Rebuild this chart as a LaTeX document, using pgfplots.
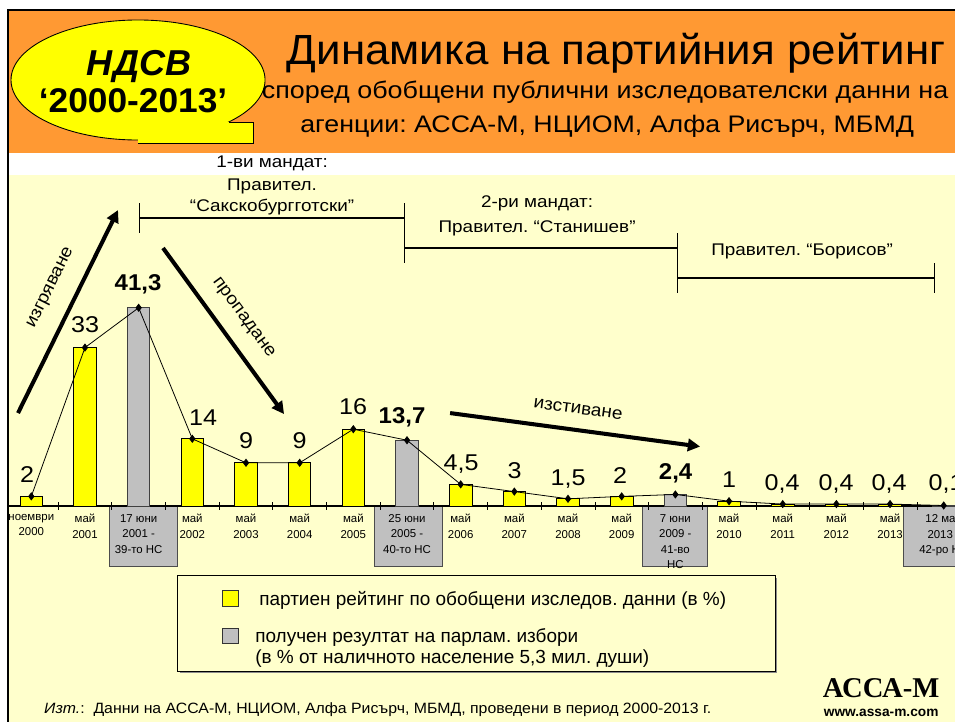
\documentclass[border=0pt]{standalone}
\usepackage{pgfplots}
\pgfplotsset{compat=1.18}
\usetikzlibrary{arrows.meta}
\usepackage{fontspec}
\setmainfont{Liberation Sans}
\newfontfamily\timesfont{Liberation Serif}
\frenchspacing

\definecolor{bandorange}{RGB}{255,153,51}
\definecolor{paleyellow}{RGB}{255,255,204}
\definecolor{baryellow}{RGB}{255,255,0}
\definecolor{bargray}{RGB}{192,192,192}

\newcommand\fs[2]{\fontsize{#1}{#2}\selectfont}
% текстът в оригинала е леко разтеглен хоризонтално
\newcommand\hx[2]{\scalebox{#1}[1]{#2}}

% рейтинг по обобщени данни (в %)
\pgfplotstableread{
x y
0 2
1 33
3 14
4 9
5 9
6 16
8 4.5
9 3
10 1.5
11 2
13 1
14 0.4
15 0.4
16 0.4
}\polls

% резултат на парламентарни избори
\pgfplotstableread{
x y
2 41.3
7 13.7
12 2.4
17 0.1
}\elections

% обща линия
\pgfplotstableread{
x y
0 2
1 33
2 41.3
3 14
4 9
5 9
6 16
7 13.7
8 4.5
9 3
10 1.5
11 2
12 2.4
13 1
14 0.4
15 0.4
16 0.4
17 0.1
}\trend

\begin{document}
\begin{tikzpicture}
\path[use as bounding box] (0,0) rectangle (19.1cm,14.44cm);
\clip (0,0) rectangle (19.1cm,14.44cm);

% ---- фон (координати в пиксели на оригинала)
\begin{scope}[x=0.02cm,y=-0.02cm,yshift=14.44cm]
  \fill[white] (0,0) rectangle (955,722);
  \fill[bandorange] (8,10) rectangle (955,153);
  \fill[paleyellow] (8,175) rectangle (955,722);
  \draw[line width=1.4pt] (955,10) -- (8,10) -- (8,722);

  % балон НДСВ
  \fill[baryellow] (138,80) ellipse (127 and 60);
  \draw[line width=0.5pt] (138,80) ellipse (127 and 60);
  \fill[baryellow] (138,122) rectangle (253,143);
  \draw[line width=0.5pt] (229,122) -- (253,122) -- (253,143) -- (138,143);
  \node[anchor=base,font=\fs{20.5}{22}\bfseries\itshape] at (139,75) {НДСВ};
  \node[anchor=base,font=\fs{19.5}{22}\bfseries] at (133,112) {\hx{1.03}{‘2000-2013’}};

  % заглавие
  \node[anchor=base,font=\fs{24}{28}] at (616,65) {\hx{1.04}{Динамика на партийния рейтинг}};
  \node[anchor=base,font=\fs{13.6}{16}] at (605,98) {\hx{1.125}{според обобщени публични изследователски данни на}};
  \node[anchor=base,font=\fs{13.6}{16}] at (607,132) {\hx{1.12}{агенции: АССА-М, НЦИОМ, Алфа Рисърч, МБМД}};

  % сиви полета под изборите
  \foreach \a/\b in {109/177, 374/442, 642/707, 903/985}
    \filldraw[fill=bargray,draw=black!70,line width=0.5pt] (\a,506) rectangle (\b,566);

  % легенда
  \fill[black!45] (180,578) rectangle (777,673);
  \filldraw[fill=paleyellow,draw=black,line width=0.5pt] (177,575) rectangle (775,671);
  \filldraw[fill=baryellow,draw=black!80,line width=0.5pt] (222,590) rectangle (238,606);
  \filldraw[fill=bargray,draw=black!80,line width=0.5pt] (222,628) rectangle (238,643);
  \node[anchor=base west,font=\fs{10.8}{13}] at (253,605) {партиен рейтинг по обобщени изследов. данни (в \%)};
  \node[anchor=base west,font=\fs{10.8}{13}] at (249,642) {получен резултат на парлам. избори};
  \node[anchor=base west,font=\fs{10.8}{13}] at (249,663) {(в \% от наличното население 5,3 мил. души)};
\end{scope}

\begin{axis}[
  at={(0.1752cm,4.32cm)}, anchor=south west,
  scale only axis,
  width=19.236cm, height=4.8cm,
  xmin=-0.42, xmax=17.5,
  ymin=0, ymax=50,
  axis x line*=bottom,
  axis y line=none,
  axis line style={black,line width=0.6pt},
  xtick={0,...,17},
  xticklabels={
    {ноември\\2000},{май\\2001},{17 юни\\2001 -\\39-то НС},{май\\2002},
    {май\\2003},{май\\2004},{май\\2005},{25 юни\\2005 -\\40-то НС},
    {май\\2006},{май\\2007},{май\\2008},{май\\2009},
    {7 юни\\2009 -\\41-во\\НС},{май\\2010},{май\\2011},{май\\2012},
    {май\\2013},{12 май\\2013 -\\42-ро НС}},
  xticklabel style={font=\fs{6.5}{8.8}, align=center, anchor=north, inner sep=0pt, yshift=-0.16cm},
  major tick length=0pt,
  minor xtick={-0.5,0.5,...,17.5},
  minor tick length=0.16cm,
  tick align=center,
  minor tick style={black,line width=0.4pt},
  clip=false,
]
\addplot[ybar, bar width=0.42, bar shift=0pt, fill=baryellow, draw=black, line width=0.5pt]
  table[x=x,y=y]{\polls};
\addplot[ybar, bar width=0.42, bar shift=0pt, fill=bargray, draw=black!75, line width=0.5pt]
  table[x=x,y=y]{\elections};
\addplot[sharp plot, black, line width=0.45pt, mark=diamond*, mark size=2pt,
  mark options={fill=black}]
  table[x=x,y=y]{\trend};
\end{axis}

% ---- надписи върху графиката
\begin{scope}[x=0.02cm,y=-0.02cm,yshift=14.44cm]
  % мандати
  \draw[line width=1.5pt] (139,218) -- (404,218);
  \draw[line width=0.6pt] (139,203) -- (139,233);
  \draw[line width=0.6pt] (404,203) -- (404,263);
  \draw[line width=1.5pt] (404,248) -- (677,248);
  \draw[line width=0.6pt] (677,233) -- (677,293);
  \draw[line width=1.5pt] (677,278) -- (934,278);
  \draw[line width=0.6pt] (934,263) -- (934,293);
  \begin{scope}[every node/.style={anchor=base,font=\fs{9.6}{11}}]
    \node at (272,167) {\hx{1.12}{1-ви мандат:}};
    \node at (272,190) {\hx{1.12}{Правител.}};
    \node at (272,211) {\hx{1.12}{“Сакскобургготски”}};
    \node at (537,207) {\hx{1.12}{2-ри мандат:}};
    \node at (537,232) {\hx{1.12}{Правител. “Станишев”}};
    \node at (802,255) {\hx{1.12}{Правител. “Борисов”}};
  \end{scope}

  % стрелки
  \draw[line width=2.3pt,-{Triangle[length=7pt,width=7pt]}] (18,413) -- (118,210);
  \draw[line width=2.3pt,-{Triangle[length=7pt,width=7pt]}] (163,248) -- (284,414);
  \draw[line width=2.3pt,-{Triangle[length=7pt,width=7pt]}] (450,413) -- (700,446.5);
  \node[rotate=63.8,font=\fs{10}{12}] at (51,288) {\hx{1.08}{изгряване}};
  \node[rotate=-53.7,font=\fs{10}{12}] at (243,318) {\hx{1.08}{пропадане}};
  \node[rotate=-7.6,font=\fs{10}{12}] at (578,409) {\hx{1.08}{изстиване}};

  % стойности
  \foreach \xx/\yy/\lbl in {27/482/2, 85/332/33, 203/425/14, 246/448/9, 299.5/448/9,
      353/414/16, 461/470/{4,5}, 514.5/478/3, 568/485/{1,5}, 620/483/2,
      729/487/1, 782/490/{0,4}, 836/490/{0,4}, 889/490/{0,4}, 946/490/{0,1}}
    \node[anchor=base,font=\fs{13}{15}] at (\xx,\yy) {\hx{1.1}{\lbl}};
  \foreach \xx/\yy/\lbl in {138/290/{41,3}, 402/423/{13,7}, 675.5/479/{2,4}}
    \node[anchor=base,font=\fs{13}{15}\bfseries] at (\xx,\yy) {\hx{1.05}{\lbl}};

  % източник
  \node[anchor=base west,font=\fs{8.5}{10}] at (38,713)
    {\hx{1.06}{\textit{Изт.}:\ \ Данни на АССА-М, НЦИОМ, Алфа Рисърч, МБМД, проведени в период 2000-2013 г.}};
  \node[anchor=base,font=\fs{16.3}{18}\timesfont\bfseries] at (881,697) {АССА-М};
  \node[anchor=base,font=\fs{7.8}{9}\bfseries] at (881,716) {www.assa-m.com};
\end{scope}
\end{tikzpicture}
\end{document}
